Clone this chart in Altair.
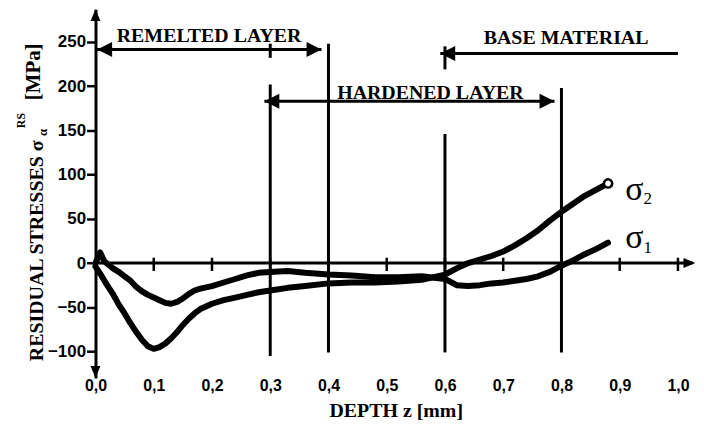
import altair as alt
import pandas as pd

# ---- measured curves (depth z [mm], residual stress [MPa]) ----
z_sigma2 = [0.00, 0.01, 0.02, 0.03, 0.04, 0.05, 0.06, 0.07, 0.08, 0.09, 0.10, 0.11,
            0.12, 0.13, 0.14, 0.15, 0.16, 0.17, 0.18, 0.20, 0.22, 0.24, 0.26, 0.28,
            0.30, 0.33, 0.36, 0.40, 0.44, 0.48, 0.52, 0.56, 0.60, 0.62, 0.64, 0.66,
            0.68, 0.70, 0.72, 0.74, 0.76, 0.78, 0.80, 0.82, 0.84, 0.86, 0.88]
sigma2 = [-4, -14, -25, -35, -47, -57, -68, -78, -87, -94, -97, -95,
          -91, -85, -78, -70, -63, -57, -52, -46, -42, -39, -36, -33,
          -31, -28, -26, -23, -22, -22, -21, -19, -13, -6, 0, 4,
          8, 13, 20, 28, 37, 48, 58, 67, 76, 83, 90]

z_sigma1 = [0.000, 0.008, 0.015, 0.03, 0.04, 0.05, 0.06, 0.07, 0.08, 0.09, 0.10, 0.11,
            0.12, 0.13, 0.14, 0.15, 0.16, 0.17, 0.18, 0.20, 0.22, 0.24, 0.26, 0.28,
            0.30, 0.33, 0.36, 0.40, 0.44, 0.48, 0.52, 0.56, 0.60, 0.62, 0.64, 0.66,
            0.68, 0.70, 0.72, 0.74, 0.76, 0.78, 0.80, 0.82, 0.84, 0.86, 0.88]
sigma1 = [0, 12, 2, -6, -10, -15, -20, -27, -32, -36, -39, -42,
          -45, -46, -44, -40, -35, -31, -29, -26, -22, -18, -14, -11,
          -10, -9, -11, -13, -14, -16, -16, -15, -18, -25, -26, -25,
          -23, -22, -20, -18, -15, -10, -3, 3, 10, 16, 23]

# ---- axes ----
x_ticks = [0.0, 0.1, 0.2, 0.3, 0.4, 0.5, 0.6, 0.7, 0.8, 0.9, 1.0]
y_ticks = [-100, -50, 0, 50, 100, 150, 200, 250]
x_tick_marks = [0.1, 0.2, 0.3, 0.4, 0.5, 0.6, 0.7, 0.8, 0.9, 1.0]

# ---- zone annotations ----
zone_names = ["REMELTED LAYER", "HARDENED LAYER", "BASE MATERIAL"]
zone_start = [0.0, 0.29, 0.592]
zone_end = [0.388, 0.788, 1.0]
zone_level = [241.5, 183, 237]
zone_label_z = [0.195, 0.575, 0.808]
zone_label_s = [250, 185, 248]

left_heads_z = [0.003, 0.29, 0.592]
left_heads_s = [241.5, 183, 237]
right_heads_z = [0.388, 0.788]
right_heads_s = [241.5, 183]

boundary_z = [0.3, 0.3, 0.4, 0.6, 0.6, 0.8]
boundary_top = [248, 202, 248, 245, 146, 198]
boundary_bottom = [232, -105, -101, 219, -101, -101]

series_labels = ["σ", "σ"]
series_label_z = [0.925, 0.925]
series_label_s = [71, 17]
series_sub = ["2", "1"]
series_sub_z = [0.948, 0.948]
series_sub_s = [67, 11]

SERIF = "Liberation Serif"
SANS = "Liberation Sans"

# ---- data tables ----
curves = pd.concat([
    pd.DataFrame({"z": z_sigma2, "s": sigma2, "series": "sigma2"}),
    pd.DataFrame({"z": z_sigma1, "s": sigma1, "series": "sigma1"}),
])
zones = pd.DataFrame({"z": zone_start, "z2": zone_end, "s": zone_level})
zone_text = pd.DataFrame({"z": zone_label_z, "s": zone_label_s, "label": zone_names})
lheads = pd.DataFrame({"z": left_heads_z, "s": left_heads_s})
rheads = pd.DataFrame({"z": right_heads_z, "s": right_heads_s})
bounds = pd.DataFrame({"z": boundary_z, "s": boundary_top, "s2": boundary_bottom})
xticks_df = pd.DataFrame({"z": x_tick_marks, "s": [6] * len(x_tick_marks),
                          "s2": [-9] * len(x_tick_marks)})
zero_line = pd.DataFrame({"z": [0.0], "z2": [1.025], "s": [0]})
x_arrow = pd.DataFrame({"z": [1.03], "s": [0]})
y_arrow_up = pd.DataFrame({"z": [0.0], "s": [287]})
y_arrow_down = pd.DataFrame({"z": [0.0], "s": [-130]})
end_marker = pd.DataFrame({"z": [z_sigma2[-1]], "s": [sigma2[-1]]})
sig_lab = pd.DataFrame({"z": series_label_z, "s": series_label_s, "label": series_labels})
sig_sub = pd.DataFrame({"z": series_sub_z, "s": series_sub_s, "label": series_sub})

X = alt.X("z:Q",
          scale=alt.Scale(domain=[0, 1.031], nice=False, zero=False),
          axis=alt.Axis(values=x_ticks,
                        labelExpr="replace(format(datum.value, '.1f'), '.', ',')",
                        domain=False, ticks=False, tickSize=0, grid=False,
                        labelFlush=False, labelOverlap=False,
                        labelFont=SANS, labelFontSize=16, labelFontWeight="bold",
                        labelColor="black", labelPadding=0,
                        title="DEPTH z [mm]", titleFont=SERIF, titleFontSize=20,
                        titleFontWeight="bold", titleColor="black", titlePadding=7))
Y = alt.Y("s:Q",
          scale=alt.Scale(domain=[-130, 287], nice=False, zero=False),
          axis=alt.Axis(values=y_ticks, domain=True, domainColor="black",
                        domainWidth=3, ticks=True, tickColor="black", tickSize=9,
                        tickWidth=2.5, grid=False, labelFont=SANS,
                        labelFontSize=17, labelFontWeight="bold",
                        labelColor="black", labelPadding=1, title=""))

LEFT = "M0,0 L2,-1 L2,1 Z"
RIGHT = "M0,0 L-2,-1 L-2,1 Z"
RIGHT_SMALL = "M0,0 L-2.4,-1 L-2.4,1 Z"
UP = "M0,0 L-1,2.4 L1,2.4 Z"
DOWN = "M0,0 L-1,-2.4 L1,-2.4 Z"

lines = alt.Chart(curves).mark_line(
    color="black", strokeWidth=6, strokeJoin="round", strokeCap="round"
).encode(x=X, y=Y, detail="series:N")

end_pt = alt.Chart(end_marker).mark_point(
    shape="circle", size=70, fill="white", fillOpacity=1, stroke="black",
    strokeWidth=2.5, opacity=1
).encode(x=X, y=Y)

bound_rules = alt.Chart(bounds).mark_rule(color="black", strokeWidth=3).encode(
    x=X, y=Y, y2="s2:Q")

zone_rules = alt.Chart(zones).mark_rule(color="black", strokeWidth=3).encode(
    x=X, x2="z2:Q", y=Y)

lh = alt.Chart(lheads).mark_point(shape=LEFT, size=225, filled=True,
                                  color="black", opacity=1).encode(x=X, y=Y)
rh = alt.Chart(rheads).mark_point(shape=RIGHT, size=225, filled=True,
                                  color="black", opacity=1).encode(x=X, y=Y)

zone_labels = alt.Chart(zone_text).mark_text(
    font=SERIF, fontSize=20, fontWeight="bold", color="black",
    align="center", baseline="alphabetic"
).encode(x=X, y=Y, text="label:N")

zero_rule = alt.Chart(zero_line).mark_rule(color="black", strokeWidth=3).encode(
    x=X, x2="z2:Q", y=Y)
xa = alt.Chart(x_arrow).mark_point(shape=RIGHT_SMALL, size=100, filled=True,
                                   color="black", opacity=1).encode(x=X, y=Y)
ya_up = alt.Chart(y_arrow_up).mark_point(shape=UP, size=100, filled=True,
                                         color="black", opacity=1).encode(x=X, y=Y)
ya_dn = alt.Chart(y_arrow_down).mark_point(shape=DOWN, size=100, filled=True,
                                           color="black", opacity=1).encode(x=X, y=Y)
xt = alt.Chart(xticks_df).mark_rule(color="black", strokeWidth=2.5).encode(
    x=X, y=Y, y2="s2:Q")

sl = alt.Chart(sig_lab).mark_text(font=SERIF, fontSize=34, color="black",
                                  align="center", baseline="alphabetic"
                                  ).encode(x=X, y=Y, text="label:N")
ss = alt.Chart(sig_sub).mark_text(font=SERIF, fontSize=17, color="black",
                                  align="center", baseline="alphabetic"
                                  ).encode(x=X, y=Y, text="label:N")

one = pd.DataFrame({"k": [0]})
def ytitle(text, px, py, size):
    return alt.Chart(one).mark_text(
        font=SERIF, fontSize=size, fontWeight="bold", color="black",
        angle=270, align="center", baseline="alphabetic"
    ).encode(x=alt.value(px), y=alt.value(py), text=alt.value(text))

yt_main = ytitle("RESIDUAL STRESSES σ", -53, 243, 20)
yt_sub = ytitle("α", -49, 124, 13)
yt_sup = ytitle("RS", -71, 112, 12)
yt_unit = ytitle("[MPa]", -56, 63, 21)

chart = alt.layer(
    bound_rules, zone_rules, lh, rh, zone_labels, zero_rule, xt, xa, ya_up, ya_dn,
    lines, end_pt, sl, ss, yt_main, yt_sub, yt_sup, yt_unit
).properties(
    width=604, height=371,
    autosize=alt.AutoSizeParams(type="none"),
    padding={"left": 88, "top": 0, "right": 0, "bottom": 42},
).configure_view(stroke=None)

chart.save("out.html", embed_options={"renderer": "svg", "actions": False})
